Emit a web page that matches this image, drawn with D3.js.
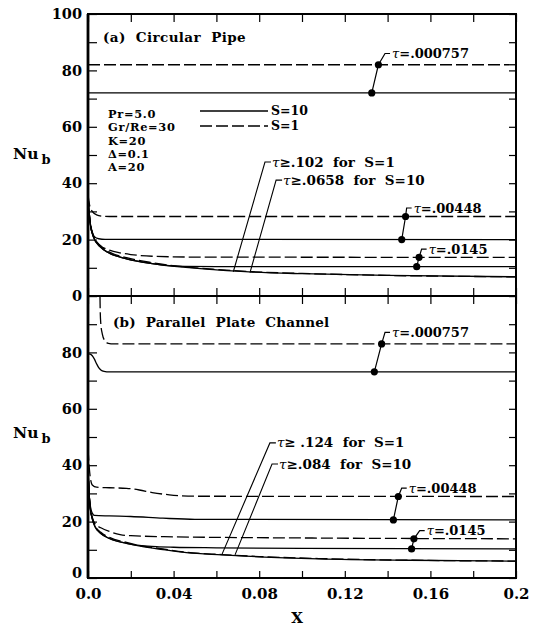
<!DOCTYPE html>
<html>
<head>
<meta charset="utf-8">
<script src="https://cdn.jsdelivr.net/npm/d3@7"></script>
<style>
  body { margin: 0; background: #fff; }
  svg text { font-family: "DejaVu Serif", serif; font-weight: bold; fill: #000; }
</style>
</head>
<body>
<div class="chart"></div>
<script>
// --- Data: [X, Nu_b] pairs ---
// (a) circular pipe
const aS1_000757 = [[0, 82], [0.2, 82]];
const aS10_000757 = [[0, 72], [0.2, 72]];
const aS1_00448 = [[0, 36], [0.0008, 32], [0.002, 30], [0.004, 28.8], [0.007, 28.3], [0.012, 28.2], [0.2, 28.2]];
const aS10_00448 = [[0, 34], [0.0008, 27], [0.0015, 23.5], [0.003, 21], [0.005, 20.3], [0.008, 20.1], [0.2, 20]];
const aS1_0145 = [[0, 36], [0.0005, 30], [0.001, 26.5], [0.0025, 21.5], [0.0056, 18], [0.01, 16.3], [0.015, 15.3], [0.02, 14.7], [0.03, 14.1], [0.05, 13.8], [0.2, 13.7]];
const aS10_0145 = [[0, 36], [0.0005, 30], [0.001, 26], [0.0025, 21], [0.0056, 17.5], [0.01, 15.2], [0.018, 13.2], [0.03, 11.5], [0.038, 10.8], [0.045, 10.5], [0.06, 10.4], [0.2, 10.4]];
const aS1_full = [[0, 36], [0.0005, 30], [0.001, 26.3], [0.0025, 21.4], [0.0056, 17.9], [0.01, 15.6], [0.018, 13.6], [0.03, 11.8], [0.043, 10.5], [0.06, 9.4], [0.077, 8.6], [0.1, 8], [0.14, 7.3], [0.2, 6.8]];
const aS10_full = [[0, 36], [0.0005, 30], [0.001, 26], [0.0025, 21], [0.0056, 17.5], [0.01, 15.2], [0.018, 13.2], [0.03, 11.5], [0.043, 10.3], [0.06, 9.3], [0.077, 8.5], [0.1, 7.9], [0.14, 7.3], [0.2, 6.8]];

// (b) parallel plate channel
const bS1_000757 = [[0.0056, 100], [0.0057, 95], [0.006, 90], [0.0067, 86.5], [0.0078, 84.2], [0.0095, 83.2], [0.012, 83], [0.2, 83]];
const bS10_000757 = [[0, 79.5], [0.001, 79.4], [0.002, 78.8], [0.003, 77.6], [0.004, 76], [0.005, 74.6], [0.006, 73.8], [0.0075, 73.3], [0.01, 73.1], [0.2, 73.1]];
const bS1_00448 = [[0, 46], [0.0005, 40], [0.001, 36], [0.002, 33], [0.004, 32.2], [0.01, 32], [0.018, 31.8], [0.024, 31.2], [0.03, 30.3], [0.038, 29.5], [0.05, 29], [0.2, 28.9]];
const bS10_00448 = [[0, 40], [0.0005, 30], [0.001, 26], [0.002, 23], [0.003, 22.2], [0.01, 22], [0.02, 21.8], [0.035, 21.2], [0.05, 20.8], [0.2, 20.6]];
const bS1_0145 = [[0, 40], [0.0005, 30.5], [0.001, 25.5], [0.002, 21.5], [0.0035, 19], [0.006, 17.8], [0.01, 16.5], [0.015, 15.4], [0.02, 15], [0.04, 14.6], [0.1, 14.2], [0.2, 13.9]];
const bS10_0145 = [[0, 40], [0.0005, 30], [0.001, 25], [0.002, 21], [0.0033, 18.2], [0.006, 15.8], [0.01, 14], [0.018, 12.3], [0.025, 11.5], [0.032, 11.1], [0.04, 10.9], [0.06, 10.7], [0.1, 10.5], [0.2, 10.3]];
const bS1_full = [[0, 40], [0.0005, 30.3], [0.001, 25.3], [0.002, 21.3], [0.0033, 18.6], [0.006, 16.2], [0.01, 14.4], [0.018, 12.6], [0.025, 11.4], [0.034, 10.4], [0.046, 9.1], [0.0625, 8.3], [0.08, 7.6], [0.108, 6.9], [0.15, 6.3], [0.2, 6]];
const bS10_full = [[0, 40], [0.0005, 30], [0.001, 25], [0.002, 21], [0.0033, 18.2], [0.006, 15.8], [0.01, 14], [0.018, 12.3], [0.025, 11.2], [0.034, 10.2], [0.046, 9], [0.0625, 8.2], [0.08, 7.5], [0.108, 6.8], [0.15, 6.3], [0.2, 6]];

// tau labels: solid dot, dashed dot, leader top
const aTauLabels = [
  { text: "=.000757", solid: [0.1326, 72], dashed: [0.1357, 82], top: [0.1388, 86] },
  { text: "=.00448", solid: [0.1466, 20], dashed: [0.1484, 28.2], top: [0.1489, 31.2] },
  { text: "=.0145", solid: [0.1536, 10.4], dashed: [0.1547, 13.7], top: [0.1559, 16.6] }
];
const bTauLabels = [
  { text: "=.000757", solid: [0.1338, 73.1], dashed: [0.1372, 83], top: [0.1388, 87.1] },
  { text: "=.00448", solid: [0.1427, 20.6], dashed: [0.145, 28.9], top: [0.1466, 31.9] },
  { text: "=.0145", solid: [0.1512, 10.3], dashed: [0.1523, 13.9], top: [0.155, 16.8] }
];
// fully developed leaders: bottom point, top point
const aLeaders = [
  { text: "≥.102  for  S=1", bottom: [0.0679, 8.6], top: [0.0827, 47.5] },
  { text: "≥.0658  for  S=10", bottom: [0.0757, 8.3], top: [0.0879, 41.1] }
];
const bLeaders = [
  { text: "≥ .124  for  S=1", bottom: [0.0625, 8.2], top: [0.085, 47.9] },
  { text: "≥.084  for  S=10", bottom: [0.0687, 8.2], top: [0.086, 40.4] }
];

const legendParams = ["Pr=5.0", "Gr/Re=30", "K=20", "Δ=0.1", "A=20"];
const xTickValues = d3.range(0, 0.2001, 0.02);
const xLabelValues = [0, 0.04, 0.08, 0.12, 0.16, 0.2];
const xLabels = ["0.0", "0.04", "0.08", "0.12", "0.16", "0.2"];
const yTickValues = d3.range(0, 101, 10);
const aYLabels = [0, 20, 40, 60, 80, 100];
const bYLabels = [0, 20, 40, 60, 80];

// --- Layout ---
const W = 536, H = 630;
const left = 88, right = 516;
const aTop = 14, mid = 296, bBottom = 578;

const svg = d3.select(".chart").append("svg")
  .attr("width", W).attr("height", H);

const x = d3.scaleLinear().domain([0, 0.2]).range([left, right]);
const yA = d3.scaleLinear().domain([0, 100]).range([mid, aTop]);
const yB = d3.scaleLinear().domain([0, 100]).range([bBottom, mid]);

const dash = "12,4";

function panel(id, y, y0, y1, curves, tauLabels, leaders, yLabels) {
  svg.append("clipPath").attr("id", id)
    .append("rect").attr("x", left).attr("y", y0).attr("width", right - left).attr("height", y1 - y0);

  const g = svg.append("g").attr("clip-path", `url(#${id})`);
  const line = d3.line().x(d => x(d[0])).y(d => y(d[1])).curve(d3.curveMonotoneX);

  curves.forEach(c => {
    g.append("path")
      .attr("d", line(c.data))
      .attr("fill", "none")
      .attr("stroke", "#000")
      .attr("stroke-width", 1.3)
      .attr("stroke-dasharray", c.dashed ? dash : null);
  });

  // tau annotations with dots
  tauLabels.forEach(t => {
    const pts = [t.solid, t.dashed, t.top].map(p => [x(p[0]), y(p[1])]);
    const hookEnd = pts[2][0] + 5;
    svg.append("path")
      .attr("d", d3.line()(pts) + `L${hookEnd},${pts[2][1]}`)
      .attr("fill", "none").attr("stroke", "#000").attr("stroke-width", 1.2);
    [t.solid, t.dashed].forEach(p => {
      svg.append("circle").attr("cx", x(p[0])).attr("cy", y(p[1])).attr("r", 3.6).attr("fill", "#000");
    });
    const txt = svg.append("text")
      .attr("x", hookEnd + 2).attr("y", pts[2][1] + 4.5)
      .style("font-size", "13px");
    txt.append("tspan").style("font-style", "italic").style("font-weight", "normal").text("τ");
    txt.append("tspan").text(t.text);
  });

  leaders.forEach(l => {
    const p0 = [x(l.bottom[0]), y(l.bottom[1])];
    const p1 = [x(l.top[0]), y(l.top[1])];
    svg.append("path")
      .attr("d", `M${p0}L${p1}L${p1[0] + 6},${p1[1]}`)
      .attr("fill", "none").attr("stroke", "#000").attr("stroke-width", 1.1);
    const txt = svg.append("text")
      .attr("x", p1[0] + 7).attr("y", p1[1] + 4.5)
      .style("font-size", "13.5px")
      .style("white-space", "pre");
    txt.append("tspan").style("font-style", "italic").style("font-weight", "normal").text("τ");
    txt.append("tspan").text(l.text);
  });

  // left ticks + labels
  const yl = svg.append("g").attr("transform", `translate(${left},0)`)
    .call(d3.axisLeft(y).tickValues(yTickValues).tickSize(-9).tickPadding(6)
      .tickFormat(d => yLabels.includes(d) ? d : ""));
  // right ticks
  const yr = svg.append("g").attr("transform", `translate(${right},0)`)
    .call(d3.axisRight(y).tickValues(yTickValues).tickSize(-7).tickFormat(""));
  [yl, yr].forEach(a => {
    a.select(".domain").remove();
    a.selectAll("line").attr("stroke", "#000").attr("stroke-width", 1.2);
  });
  yl.selectAll("text").style("font-size", "14.5px").style("font-family", "DejaVu Serif").attr("fill", "#000");
  return yl;
}

panel("clipA", yA, aTop, mid,
  [
    { data: aS1_000757, dashed: true }, { data: aS10_000757, dashed: false },
    { data: aS1_00448, dashed: true }, { data: aS10_00448, dashed: false },
    { data: aS1_0145, dashed: true }, { data: aS10_0145, dashed: false },
    { data: aS1_full, dashed: true }, { data: aS10_full, dashed: false }
  ], aTauLabels, aLeaders, aYLabels);

const ylB = panel("clipB", yB, mid, bBottom,
  [
    { data: bS1_000757, dashed: true }, { data: bS10_000757, dashed: false },
    { data: bS1_00448, dashed: true }, { data: bS10_00448, dashed: false },
    { data: bS1_0145, dashed: true }, { data: bS10_0145, dashed: false },
    { data: bS1_full, dashed: true }, { data: bS10_full, dashed: false }
  ], bTauLabels, bLeaders, bYLabels);
// bottom "0" sits a little raised above the x labels
ylB.selectAll(".tick").filter(d => d === 0).select("text").attr("dy", "-0.05em");

// x ticks
const xAxes = [
  { y: aTop, axis: d3.axisTop, size: -8 },
  { y: mid, axis: d3.axisBottom, size: -8 },
  { y: mid, axis: d3.axisTop, size: -8 },
  { y: bBottom, axis: d3.axisBottom, size: -7 }
];
xAxes.forEach(a => {
  const g = svg.append("g").attr("transform", `translate(0,${a.y})`)
    .call(a.axis(x).tickValues(xTickValues).tickSize(a.size).tickFormat(""));
  g.select(".domain").remove();
  g.selectAll("line").attr("stroke", "#000").attr("stroke-width", 1.2);
});
const xl = svg.append("g").attr("transform", `translate(0,${bBottom})`)
  .call(d3.axisBottom(x).tickValues(xLabelValues).tickSize(0).tickPadding(10)
    .tickFormat((d, i) => xLabels[i]));
xl.select(".domain").remove();
xl.selectAll("text").style("font-size", "15px").style("font-family", "DejaVu Serif").attr("fill", "#000");

// frames
[[aTop, mid], [mid, bBottom]].forEach(([t, b]) => {
  svg.append("rect").attr("x", left).attr("y", t).attr("width", right - left).attr("height", b - t)
    .attr("fill", "none").attr("stroke", "#000").attr("stroke-width", 2);
});
svg.append("line").attr("x1", left).attr("x2", left).attr("y1", aTop).attr("y2", bBottom)
  .attr("stroke", "#000").attr("stroke-width", 2.8);

// panel titles
svg.append("text").attr("x", 103).attr("y", 41.5).style("font-size", "13.5px").style("word-spacing", "5px")
  .style("letter-spacing", "0.4px")
  .text("(a) Circular Pipe");
svg.append("text").attr("x", 113).attr("y", 326.5).style("font-size", "13.5px").style("word-spacing", "5px")
  .style("letter-spacing", "0.2px")
  .text("(b) Parallel Plate Channel");

// parameter block
svg.append("g").selectAll("text").data(legendParams).join("text")
  .attr("x", 108).attr("y", (d, i) => 118 + i * 13.3)
  .style("font-size", "11.4px")
  .style("letter-spacing", "0.7px")
  .text(d => d);

// line style legend
const legendItems = [{ label: "S=10", dashed: false, y: 111 }, { label: "S=1", dashed: true, y: 126 }];
legendItems.forEach(d => {
  svg.append("line").attr("x1", 200).attr("x2", 268).attr("y1", d.y).attr("y2", d.y)
    .attr("stroke", "#000").attr("stroke-width", 1.3).attr("stroke-dasharray", d.dashed ? dash : null);
  svg.append("text").attr("x", 271).attr("y", d.y + 4.3).style("font-size", "12.5px").text(d.label);
});

// axis titles
[{ y: 158.5 }, { y: 438 }].forEach(d => {
  const t = svg.append("text").attr("x", 13).attr("y", d.y).style("font-size", "15.5px");
  t.append("tspan").text("Nu");
  t.append("tspan").attr("dx", 3).attr("dy", 5).style("font-size", "13px").text("b");
});
svg.append("text").attr("x", 297).attr("y", 623).attr("text-anchor", "middle")
  .style("font-size", "15px").text("X");
</script>
</body>
</html>
